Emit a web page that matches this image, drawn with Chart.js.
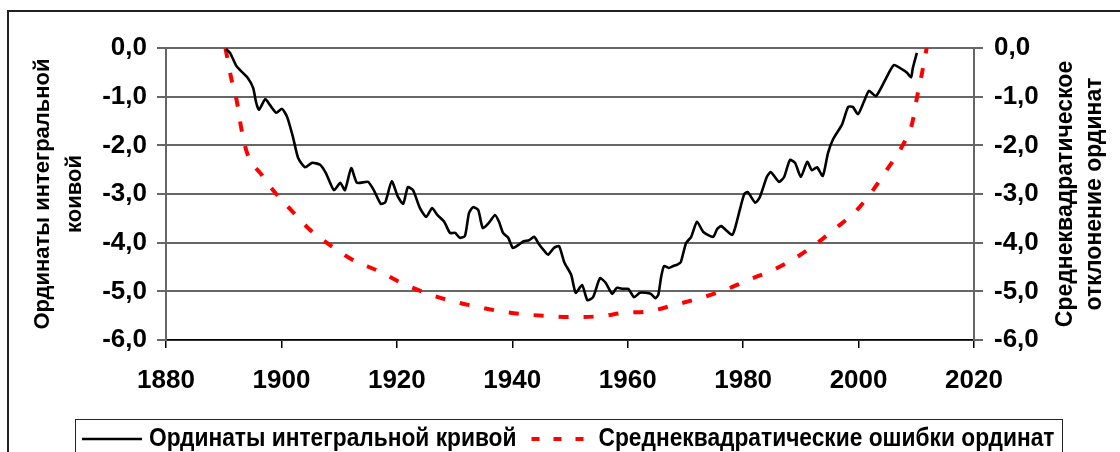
<!DOCTYPE html>
<html><head><meta charset="utf-8">
<script src="https://cdn.jsdelivr.net/npm/chart.js@4.4.1/dist/chart.umd.min.js"></script>
<style>
html,body{margin:0;padding:0;background:#fff;}
#wrap{position:relative;width:1120px;height:452px;overflow:hidden;}
#frame{position:absolute;left:7px;top:10px;width:1300px;height:700px;border-left:2px solid #222;border-top:2px solid #222;}
canvas{position:absolute;left:0;top:0;}
</style></head><body>
<div id="wrap"><div id="frame"></div><canvas id="c" width="1120" height="452"></canvas></div>
<script>
const ordYears = [1890.4,1891.1,1892.1,1892.8,1894.2,1895.1,1895.6,1896.1,1897.2,1898.0,1899.1,1900.1,1901.0,1902.0,1902.9,1904.1,1905.3,1906.7,1907.7,1909.1,1910.2,1911.0,1912.1,1913.1,1915.0,1916.0,1917.2,1918.0,1919.1,1920.2,1921.1,1921.9,1922.8,1924.0,1925.1,1926.1,1927.0,1928.2,1929.2,1930.1,1930.9,1931.8,1932.5,1933.2,1934.1,1934.9,1936.1,1937.0,1937.7,1938.4,1939.3,1940.1,1941.0,1942.0,1942.9,1943.8,1944.5,1945.7,1946.2,1947.2,1948.1,1949.0,1950.2,1951.0,1952.1,1953.0,1954.0,1955.2,1956.2,1957.3,1958.1,1959.2,1960.1,1961.1,1962.1,1963.1,1964.0,1964.8,1965.3,1965.8,1966.3,1967.1,1967.9,1968.6,1969.2,1970.1,1971.0,1972.0,1973.1,1974.8,1975.5,1976.2,1977.2,1978.1,1978.6,1979.5,1980.2,1980.8,1982.1,1982.9,1984.1,1984.8,1986.2,1987.1,1988.1,1989.0,1990.0,1991.1,1991.9,1992.8,1993.8,1994.7,1995.6,1997.1,1998.2,1999.0,1999.9,2000.9,2001.8,2003.0,2004.6,2006.1,2007.7,2008.4,2009.1,2009.4,2010.1];
const ordValues = [-0.02,-0.10,-0.35,-0.45,-0.62,-0.82,-1.11,-1.27,-1.05,-1.17,-1.33,-1.25,-1.42,-1.83,-2.26,-2.45,-2.36,-2.40,-2.57,-2.92,-2.77,-2.92,-2.47,-2.77,-2.75,-2.92,-3.20,-3.17,-2.74,-3.06,-3.20,-2.86,-2.92,-3.29,-3.47,-3.29,-3.43,-3.57,-3.80,-3.80,-3.90,-3.86,-3.39,-3.27,-3.33,-3.70,-3.57,-3.43,-3.57,-3.80,-3.90,-4.11,-4.05,-3.97,-3.95,-3.88,-4.01,-4.19,-4.25,-4.11,-4.07,-4.40,-4.66,-5.03,-4.87,-5.18,-5.12,-4.73,-4.83,-5.05,-4.93,-4.95,-4.95,-5.12,-5.03,-5.03,-5.05,-5.14,-5.07,-4.70,-4.48,-4.52,-4.48,-4.45,-4.40,-4.01,-3.88,-3.57,-3.78,-3.88,-3.72,-3.66,-3.76,-3.84,-3.70,-3.29,-3.00,-2.96,-3.18,-3.06,-2.65,-2.55,-2.75,-2.65,-2.30,-2.36,-2.65,-2.34,-2.51,-2.45,-2.63,-2.16,-1.87,-1.58,-1.21,-1.21,-1.36,-1.11,-0.88,-0.99,-0.66,-0.35,-0.45,-0.51,-0.60,-0.41,-0.10];
const errYears = [1890.3,1891.3,1892.3,1893.0,1894.0,1896.6,1899.1,1902.0,1904.8,1908.4,1912.0,1917.1,1920.5,1924.5,1928.9,1933.2,1937.5,1941.9,1946.5,1950.9,1955.2,1959.5,1963.7,1968.1,1972.5,1976.9,1980.8,1985.2,1989.0,1992.8,1996.3,1999.7,2002.5,2005.1,2007.5,2009.3,2010.1,2011.0,2011.8];
const errValues = [0.00,-0.62,-1.11,-1.62,-2.14,-2.61,-3.00,-3.37,-3.72,-4.05,-4.33,-4.60,-4.81,-5.01,-5.18,-5.30,-5.40,-5.47,-5.51,-5.53,-5.51,-5.44,-5.41,-5.28,-5.14,-4.97,-4.77,-4.56,-4.32,-4.01,-3.68,-3.33,-2.92,-2.47,-2.03,-1.54,-1.03,-0.51,0.00];
const seriesLabels = ['Ординаты интегральной кривой','Среднеквадратические ошибки ординат'];
const leftTitle = ['Ординаты интегральной','коивой'];
const rightTitle = ['Среднеквадратическое','отклонение ординат'];
const yearMin = 1880, yearMax = 2020, yearStep = 20;
const valMin = -6, valMax = 0, valStep = 1;

const FONT = "'Liberation Sans', Arial, sans-serif";
const fmt = v => v.toFixed(1).replace('.', ',').replace('-0,0','0,0');

const extras = {
  id: 'extras',
  afterDraw(chart) {
    const ctx = chart.ctx;
    // right axis title (reads bottom to top)
    ctx.save();
    ctx.fillStyle = '#000';
    ctx.font = 'bold 23px ' + FONT;
    ctx.textAlign = 'center';
    ctx.textBaseline = 'middle';
    const cy = (chart.chartArea.top + chart.chartArea.bottom) / 2;
    rightTitle.forEach((t, i) => {
      ctx.save();
      ctx.translate(1066 + i * 29, cy);
      ctx.rotate(-Math.PI / 2);
      ctx.fillText(t, 0, 0);
      ctx.restore();
    });
    ctx.restore();
    // legend
    ctx.save();
    ctx.strokeStyle = '#222';
    ctx.lineWidth = 1;
    ctx.strokeRect(75.5, 419.5, 987, 80);
    ctx.font = 'bold 25px ' + FONT;
    ctx.textBaseline = 'middle';
    ctx.textAlign = 'left';
    const sx = 0.91;
    let x = 82;
    const ly = 439;
    chart.data.datasets.forEach(ds => {
      ctx.save();
      ctx.strokeStyle = ds.borderColor;
      ctx.lineWidth = ds.borderWidth;
      ctx.setLineDash(ds.legendDash || ds.borderDash || []);
      ctx.beginPath();
      ctx.moveTo(x, ly);
      ctx.lineTo(x + 60, ly);
      ctx.stroke();
      ctx.restore();
      x += 67;
      ctx.save();
      ctx.translate(x, ly);
      ctx.scale(sx, 1);
      ctx.fillStyle = '#000';
      ctx.fillText(ds.label, 0, 0);
      ctx.restore();
      x += ctx.measureText(ds.label).width * sx + 15;
    });
    ctx.restore();
  }
};

new Chart(document.getElementById('c'), {
  type: 'line',
  data: {
    datasets: [
      {
        label: seriesLabels[0],
        data: ordYears.map((yr, i) => ({x: yr, y: ordValues[i]})),
        borderColor: '#000', borderWidth: 2.6, pointRadius: 0, tension: 0.2,
        borderJoinStyle: 'round', yAxisID: 'y', fill: false
      },
      {
        label: seriesLabels[1],
        data: errYears.map((yr, i) => ({x: yr, y: errValues[i]})),
        borderColor: '#ff0000', borderWidth: 4, borderDash: [10, 15], legendDash: [8, 14], pointRadius: 0,
        cubicInterpolationMode: 'monotone', yAxisID: 'y2', fill: false
      }
    ]
  },
  options: {
    responsive: false,
    animation: false,
    devicePixelRatio: 1,
    layout: { padding: { left: 0, right: 0, top: 48, bottom: 52 } },
    plugins: { legend: { display: false }, tooltip: { enabled: false } },
    scales: {
      x: {
        type: 'linear', min: yearMin, max: yearMax,
        afterFit: s => { s.height = 60; },
        ticks: { stepSize: yearStep, callback: v => String(v), color: '#000', padding: 17,
                 font: { family: FONT, size: 26, weight: 'bold' }, maxRotation: 0 },
        grid: { drawOnChartArea: false, drawTicks: true, tickLength: 8, color: '#000', lineWidth: 1.5 },
        border: { color: '#000', width: 1.5 }
      },
      y: {
        position: 'left', min: valMin, max: valMax,
        afterFit: s => { s.width = 166; },
        ticks: { stepSize: valStep, callback: v => fmt(v), color: '#000', padding: 10,
                 font: { family: FONT, size: 26, weight: 'bold' } },
        grid: { color: '#666', lineWidth: 2, tickLength: 9 },
        border: { color: '#666', width: 2 },
        title: { display: true, text: leftTitle, color: '#000', padding: { top: 27, bottom: 0 },
                 font: { family: FONT, size: 22, weight: 'bold', lineHeight: 1.45 } }
      },
      y2: {
        position: 'right', min: valMin, max: valMax,
        afterFit: s => { s.width = 146; },
        ticks: { stepSize: valStep, callback: v => fmt(v), color: '#000', padding: 11,
                 font: { family: FONT, size: 26, weight: 'bold' } },
        grid: { drawOnChartArea: false, drawTicks: true, color: '#666', lineWidth: 2, tickLength: 9 },
        border: { color: '#666', width: 2 }
      }
    }
  },
  plugins: [extras]
});
</script>
</body></html>
